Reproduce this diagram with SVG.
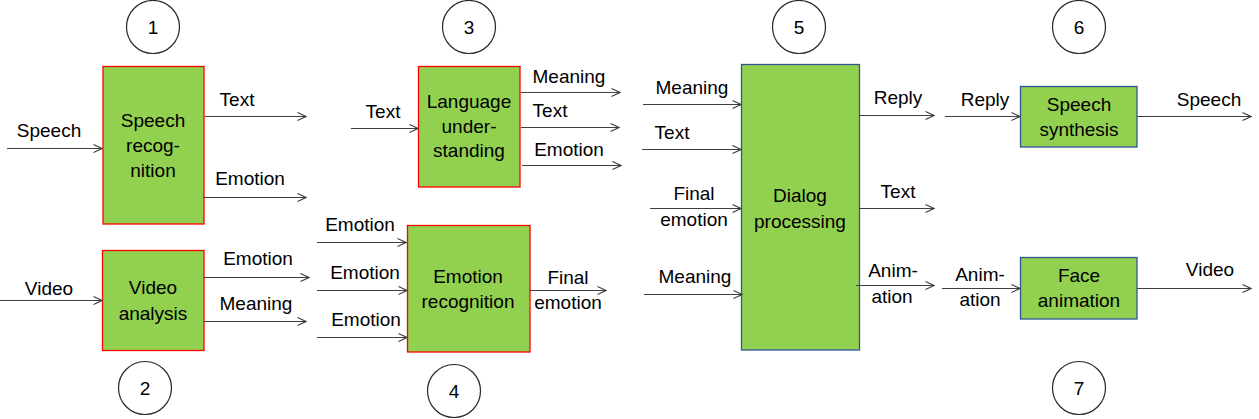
<svg xmlns="http://www.w3.org/2000/svg" width="1259" height="419" viewBox="0 0 1259 419">
<style>
text{font-family:"Liberation Sans",Arial,sans-serif;font-size:19px;fill:#000;text-anchor:middle}
.box{fill:#92D050;stroke-width:1.3}
.red{stroke:#FF0000}
.blue{stroke:#2F5597}
.num{fill:#fff;stroke:#262626;stroke-width:1.2}
.c line{stroke:#404040;stroke-width:1.2;marker-end:url(#ah)}
</style>
<defs>
<marker id="ah" viewBox="0 0 10 10" refX="9.5" refY="5" markerWidth="10" markerHeight="10" markerUnits="userSpaceOnUse" orient="auto">
<path d="M1,1 L9.5,5 L1,9" fill="none" stroke="#404040" stroke-width="1.1"/>
</marker>
</defs>
<rect width="1259" height="419" fill="#fff"/>

<g id="n1">
<circle class="num" cx="153" cy="27" r="26.5"/><text x="153" y="34">1</text>
<rect class="box red" x="103" y="66.5" width="101" height="157.5"/>
<text x="153" y="127">Speech</text><text x="153" y="152">recog-</text><text x="153" y="177">nition</text>
</g>
<g id="n2">
<circle class="num" cx="145" cy="388" r="26.5"/><text x="145" y="395">2</text>
<rect class="box red" x="102.5" y="250.5" width="101.5" height="100"/>
<text x="153" y="294">Video</text><text x="153" y="320">analysis</text>
</g>
<g id="n3">
<circle class="num" cx="469" cy="27" r="26.5"/><text x="469" y="34">3</text>
<rect class="box red" x="418.5" y="66.5" width="101.5" height="120.5"/>
<text x="469" y="108">Language</text><text x="469" y="133">under-</text><text x="469" y="157">standing</text>
</g>
<g id="n4">
<circle class="num" cx="454" cy="391" r="26.5"/><text x="454" y="398">4</text>
<rect class="box red" x="407.5" y="225.5" width="122.5" height="126.5"/>
<text x="468" y="283">Emotion</text><text x="468" y="308">recognition</text>
</g>
<g id="n5">
<circle class="num" cx="799" cy="27" r="26.5"/><text x="799" y="34">5</text>
<rect class="box blue" x="741.5" y="64.5" width="118" height="285.5"/>
<text x="800" y="202">Dialog</text><text x="800" y="228">processing</text>
</g>
<g id="n6">
<circle class="num" cx="1079" cy="27" r="26.5"/><text x="1079" y="34">6</text>
<rect class="box blue" x="1020.5" y="86.5" width="116.5" height="60.5"/>
<text x="1079" y="111">Speech</text><text x="1079" y="136">synthesis</text>
</g>
<g id="n7">
<circle class="num" cx="1079" cy="388" r="26.5"/><text x="1079" y="395">7</text>
<rect class="box blue" x="1020.5" y="257.5" width="116.5" height="61.5"/>
<text x="1079" y="282">Face</text><text x="1079" y="307">animation</text>
</g>

<g id="connectors" class="c">
<line x1="7" y1="148.5" x2="102" y2="148.5"/>
<line x1="205" y1="116.5" x2="306" y2="116.5"/>
<line x1="203" y1="197.5" x2="306" y2="197.5"/>
<line x1="0" y1="300.5" x2="102" y2="300.5"/>
<line x1="204" y1="277.5" x2="309" y2="277.5"/>
<line x1="204" y1="321.5" x2="306" y2="321.5"/>
<line x1="351" y1="128.5" x2="418" y2="128.5"/>
<line x1="521" y1="92.5" x2="620" y2="92.5"/>
<line x1="521" y1="127.5" x2="619" y2="127.5"/>
<line x1="522" y1="165.5" x2="621" y2="165.5"/>
<line x1="317" y1="242.5" x2="406" y2="242.5"/>
<line x1="317" y1="290.5" x2="407" y2="290.5"/>
<line x1="317" y1="337.5" x2="407" y2="337.5"/>
<line x1="530" y1="290.5" x2="606" y2="290.5"/>
<line x1="643" y1="104.5" x2="741" y2="104.5"/>
<line x1="642" y1="149.5" x2="741" y2="149.5"/>
<line x1="650" y1="208.5" x2="741" y2="208.5"/>
<line x1="644" y1="294.5" x2="742" y2="294.5"/>
<line x1="859" y1="115.5" x2="934" y2="115.5"/>
<line x1="860" y1="208.5" x2="934" y2="208.5"/>
<line x1="856" y1="285.5" x2="934" y2="285.5"/>
<line x1="945" y1="116.5" x2="1020" y2="116.5"/>
<line x1="1137" y1="116.5" x2="1251" y2="116.5"/>
<line x1="942" y1="288.5" x2="1020" y2="288.5"/>
<line x1="1137" y1="288.5" x2="1251" y2="288.5"/>
</g>

<g id="labels">
<text x="49" y="137">Speech</text>
<text x="237" y="106">Text</text>
<text x="250" y="185">Emotion</text>
<text x="49" y="295">Video</text>
<text x="258" y="265">Emotion</text>
<text x="256" y="310">Meaning</text>
<text x="383" y="118">Text</text>
<text x="569" y="83">Meaning</text>
<text x="550" y="117">Text</text>
<text x="569" y="156">Emotion</text>
<text x="360" y="231">Emotion</text>
<text x="365" y="279">Emotion</text>
<text x="366" y="326">Emotion</text>
<text x="568" y="284">Final</text>
<text x="568" y="309">emotion</text>
<text x="692" y="94">Meaning</text>
<text x="672" y="139">Text</text>
<text x="694" y="200">Final</text>
<text x="694" y="226">emotion</text>
<text x="695" y="283">Meaning</text>
<text x="898" y="104">Reply</text>
<text x="898" y="198">Text</text>
<text x="893" y="277">Anim-</text>
<text x="892" y="303">ation</text>
<text x="985" y="106">Reply</text>
<text x="1209" y="106">Speech</text>
<text x="980" y="281">Anim-</text>
<text x="980" y="306">ation</text>
<text x="1210" y="276">Video</text>
</g>
</svg>
